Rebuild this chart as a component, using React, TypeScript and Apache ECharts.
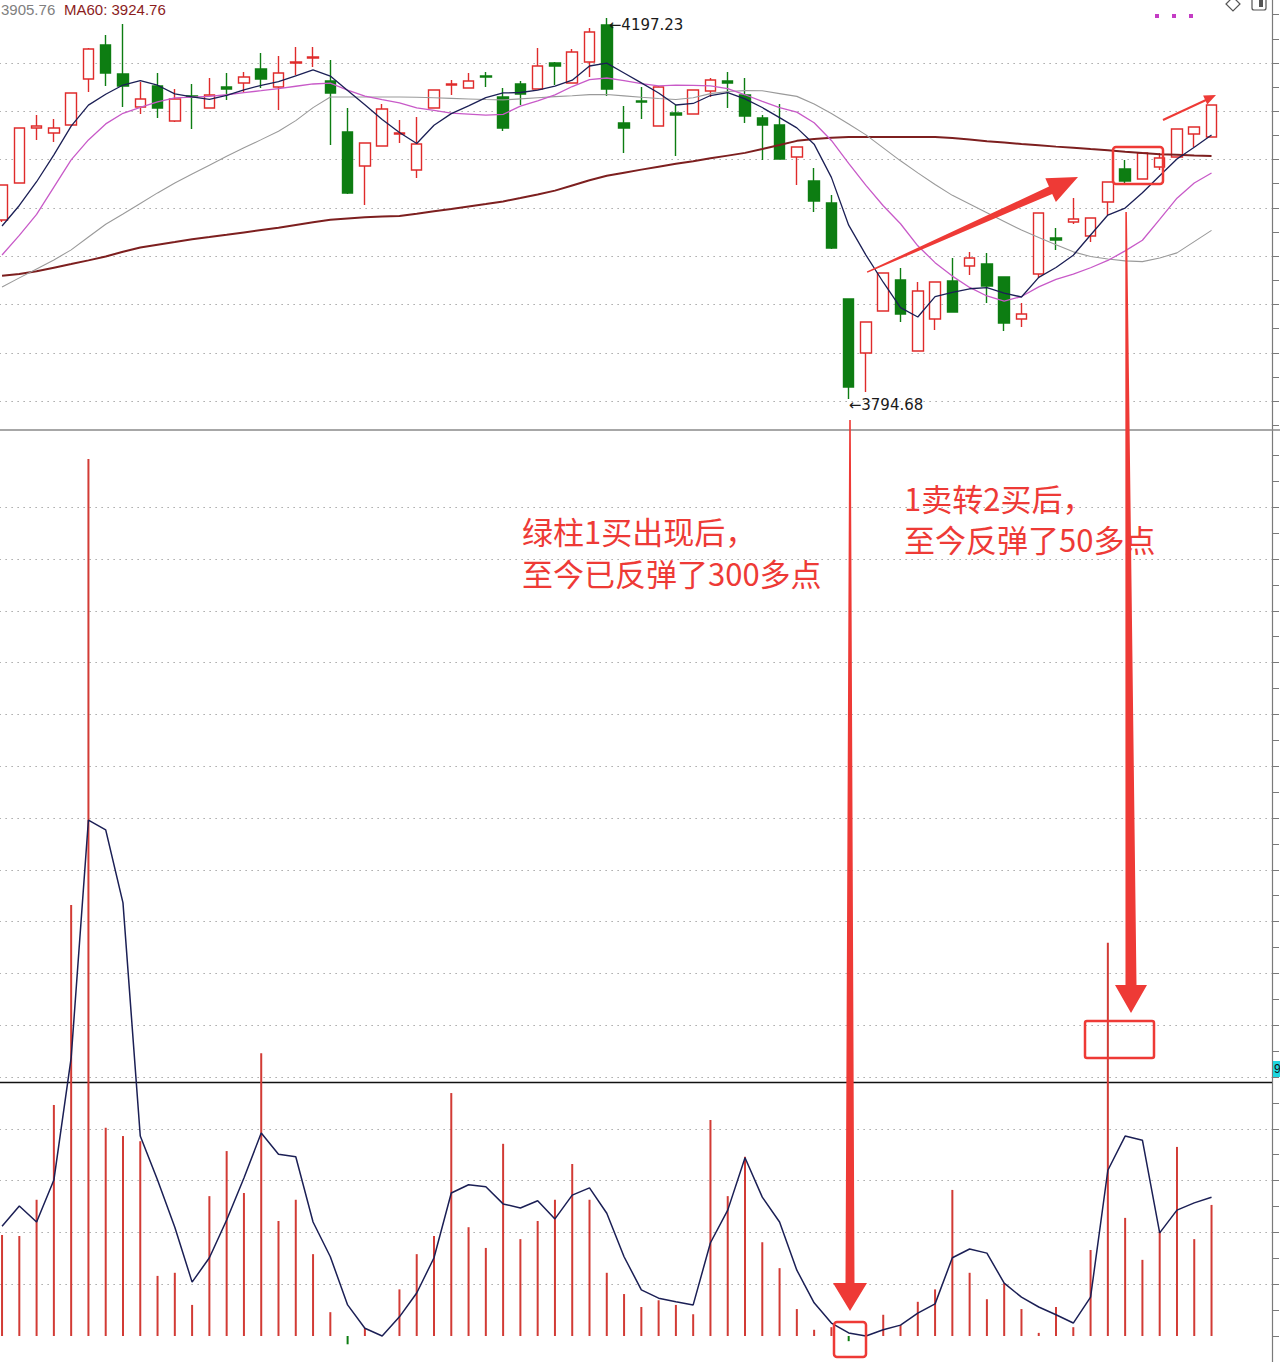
import React, { useEffect, useRef } from "react";
import * as echarts from "echarts";

// ---------- DATA ----------
const categories = [
  "1","2","3","4","5","6","7","8","9","10","11","12","13","14","15","16","17","18","19","20",
  "21","22","23","24","25","26","27","28","29","30","31","32","33","34","35","36","37","38","39","40",
  "41","42","43","44","45","46","47","48","49","50","51","52","53","54","55","56","57","58","59","60",
  "61","62","63","64","65","66","67","68","69","70","71","72","73","74"
];

const openPrice = [
  3983.8, 4022.9, 4081.0, 4075.7, 4084.2, 4132.8, 4168.7, 4138.0, 4103.2, 4125.4,
  4088.4, 4114.8, 4102.1, 4124.3, 4128.5, 4143.3, 4124.3, 4149.7, 4155.0, 4130.6,
  4076.8, 4040.8, 4062.0, 4074.6, 4036.6, 4102.1, 4126.4, 4123.3, 4135.9, 4113.7,
  4127.5, 4122.2, 4149.7, 4128.5, 4150.7, 4189.8, 4086.3, 4109.5, 4083.1, 4096.8,
  4095.8, 4120.1, 4130.6, 4115.9, 4091.6, 4084.2, 4050.3, 4025.0, 4001.7, 3900.3,
  3843.2, 3887.6, 3920.4, 3845.3, 3879.2, 3919.3, 3935.2, 3937.3, 3923.5, 3879.2,
  3926.7, 3964.8, 3981.7, 3966.9, 4002.8, 4037.7, 4027.1, 4039.8, 4050.3, 4074.6,
  4071.5
];
const closePrice = [
  4020.8, 4081.0, 4083.1, 4081.0, 4118.0, 4164.5, 4139.1, 4125.4, 4111.6, 4102.1,
  4111.6, 4113.7, 4115.9, 4122.2, 4134.9, 4132.8, 4139.1, 4150.7, 4156.0, 4118.0,
  4012.3, 4065.1, 4101.1, 4075.7, 4064.1, 4121.1, 4127.5, 4130.6, 4134.9, 4081.0,
  4116.9, 4146.5, 4146.5, 4161.3, 4182.4, 4122.2, 4081.0, 4108.5, 4124.3, 4094.7,
  4121.1, 4131.7, 4128.5, 4093.7, 4084.2, 4048.2, 4060.9, 4003.8, 3954.2, 3807.3,
  3876.0, 3927.8, 3884.4, 3908.7, 3918.3, 3886.6, 3943.6, 3914.0, 3874.9, 3884.4,
  3991.2, 3962.6, 3984.8, 3985.9, 4023.9, 4025.0, 4054.6, 4049.3, 4079.9, 4082.0,
  4105.3
];
const lowPrice = [
  3981.7, 4022.9, 4068.3, 4066.2, 4084.2, 4119.0, 4125.4, 4103.2, 4095.8, 4091.6,
  4087.3, 4079.9, 4102.1, 4110.6, 4119.0, 4123.3, 4100.0, 4137.0, 4145.4, 4063.0,
  4011.2, 3999.6, 4062.0, 4065.1, 4028.2, 4102.1, 4115.9, 4123.3, 4124.3, 4077.8,
  4105.3, 4122.2, 4126.4, 4128.5, 4134.9, 4114.8, 4054.6, 4090.5, 4083.1, 4051.4,
  4095.8, 4113.7, 4102.1, 4086.3, 4047.2, 4048.2, 4020.8, 3992.2, 3953.1, 3794.68,
  3802.0, 3887.6, 3876.0, 3845.3, 3867.5, 3886.6, 3925.6, 3896.1, 3866.5, 3870.7,
  3922.5, 3952.1, 3979.5, 3960.5, 3989.1, 4020.8, 4027.1, 4036.6, 4050.3, 4060.9,
  4071.5
];
const highPrice = [
  4021.5, 4081.0, 4094.7, 4090.5, 4118.0, 4165.5, 4179.3, 4190.9, 4129.6, 4139.1,
  4122.2, 4127.5, 4133.8, 4139.1, 4140.2, 4160.2, 4157.1, 4166.6, 4166.6, 4152.8,
  4102.1, 4065.1, 4106.3, 4089.4, 4092.6, 4122.0, 4131.7, 4139.1, 4140.2, 4123.3,
  4130.6, 4165.5, 4150.7, 4164.5, 4186.7, 4197.23, 4104.2, 4124.3, 4125.4, 4105.3,
  4121.1, 4133.8, 4140.2, 4133.8, 4094.7, 4106.3, 4060.9, 4038.7, 4010.2, 3900.3,
  3876.0, 3927.8, 3933.0, 3918.3, 3918.3, 3943.6, 3950.0, 3948.9, 3923.5, 3896.1,
  3991.2, 3975.3, 4007.0, 3985.9, 4023.9, 4047.2, 4054.6, 4054.6, 4079.9, 4082.0,
  4105.3
];

const ma5 = [
  3977.4, 3999.1, 4024.2, 4052.6, 4083.0, 4105.2, 4116.7, 4126.4, 4131.1, 4126.2,
  4117.0, 4113.8, 4111.2, 4115.5, 4121.3, 4126.1, 4130.0, 4136.1, 4142.3, 4135.9,
  4120.5, 4105.6, 4089.9, 4076.2, 4064.6, 4083.9, 4096.2, 4104.3, 4113.0, 4118.0,
  4118.5, 4121.1, 4125.2, 4131.5, 4146.5, 4149.5, 4139.1, 4128.7, 4118.0, 4105.3,
  4106.9, 4115.3, 4118.4, 4111.8, 4102.6, 4092.0, 4081.1, 4063.9, 4028.8, 3978.3,
  3946.7, 3918.0, 3891.2, 3881.3, 3902.8, 3907.4, 3911.1, 3912.4, 3906.5, 3902.4,
  3923.2, 3933.6, 3946.5, 3967.9, 3989.0, 3996.4, 4012.5, 4030.5, 4048.3, 4060.6,
  4073.6
];
const ma10 = [
  3946.8, 3967.5, 3989.7, 4018.5, 4047.3, 4068.4, 4085.3, 4096.5, 4102.8, 4108.6,
  4112.8, 4113.7, 4114.5, 4116.1, 4118.4, 4120.4, 4122.7, 4125.1, 4127.5, 4128.4,
  4121.0, 4114.6, 4110.9, 4107.5, 4102.3, 4099.5, 4096.8, 4095.7, 4094.5, 4095.3,
  4104.1, 4109.7, 4116.0, 4124.8, 4132.0, 4133.8, 4131.1, 4127.9, 4125.6, 4126.2,
  4126.1, 4125.6, 4122.6, 4116.1, 4109.1, 4102.5, 4097.8, 4086.6, 4067.8, 4043.6,
  4020.3, 3998.8, 3979.8, 3956.5, 3938.7, 3924.5, 3912.5, 3903.5, 3898.1, 3902.9,
  3913.1, 3921.0, 3926.5, 3933.3, 3941.0, 3951.1, 3962.4, 3984.4, 4006.8, 4022.8,
  4033.4
];
const ma30 = [
  3913.0, 3922.6, 3932.1, 3941.6, 3952.2, 3965.8, 3979.3, 3990.1, 4001.3, 4012.4,
  4022.9, 4032.3, 4041.7, 4051.1, 4060.1, 4068.7, 4077.6, 4088.8, 4102.5, 4113.7,
  4113.7, 4113.7, 4113.7, 4113.7, 4113.4, 4112.9, 4112.3, 4111.7, 4111.1, 4110.7,
  4111.8, 4112.9, 4114.1, 4115.1, 4116.3, 4116.4, 4114.9, 4113.4, 4112.2, 4111.1,
  4113.0, 4117.3, 4119.6, 4120.5, 4120.3, 4117.3, 4114.4, 4106.3, 4096.3, 4085.2,
  4073.7, 4060.0, 4046.3, 4033.6, 4021.3, 4009.8, 4000.7, 3991.5, 3982.3, 3973.2,
  3965.2, 3957.6, 3950.1, 3945.2, 3942.5, 3940.6, 3939.8, 3943.6, 3949.0, 3960.9,
  3972.8
];
const ma60 = [
  3924.8, 3926.6, 3929.6, 3933.4, 3937.2, 3941.1, 3945.2, 3950.2, 3954.7, 3957.7,
  3960.5, 3963.4, 3965.7, 3968.1, 3970.6, 3973.1, 3975.6, 3978.5, 3981.4, 3984.0,
  3985.4, 3986.7, 3987.5, 3988.0, 3990.4, 3993.0, 3995.5, 3998.1, 4000.7, 4003.4,
  4007.0, 4010.7, 4014.8, 4020.3, 4025.8, 4030.5, 4033.8, 4037.0, 4040.1, 4043.1,
  4045.9, 4048.9, 4051.8, 4054.7, 4058.7, 4063.0, 4067.4, 4069.4, 4070.7, 4071.5,
  4071.5, 4071.5, 4071.5, 4071.5, 4071.5, 4070.4, 4068.8, 4067.1, 4065.6, 4064.0,
  4062.7, 4061.3, 4060.1, 4058.7, 4057.4, 4055.9, 4054.5, 4053.3, 4052.7, 4051.9,
  4051.4
];

const indicatorBars = [
  19.5, 19.3, 26.3, 44.6, 83.2, 169.3, 40.2, 38.6, 37.6, 11.6,
  12.2, 6.0, 27.0, 35.7, 27.6, 54.6, 22.2, 26.3, 15.8, 4.6,
  -1.6, 1.5, 0, 9.0, 15.8, 19.3, 46.9, 21.0, 17.0, 37.1,
  18.7, 22.2, 26.3, 33.2, 26.3, 12.2, 8.1, 5.6, 6.9, 6.0,
  4.2, 41.7, 27.0, 34.6, 18.1, 13.1, 5.2, 1.2, 1.7, -1.0,
  0, 4.1, 2.1, 6.6, 9.0, 28.2, 12.2, 7.1, 10.2, 5.2,
  0.6, 5.6, 1.7, 16.6, 75.9, 22.8, 14.7, 20.1, 36.5, 18.7,
  25.3
];
const indicatorLine = [
  21.2, 25.1, 22.0, 30.1, 53.7, 99.6, 97.7, 83.6, 38.6, 30.1,
  21.0, 10.4, 15.1, 22.4, 30.5, 39.2, 35.1, 34.6, 22.0, 15.3,
  6.0, 1.5, 0, 3.7, 8.3, 15.1, 27.6, 29.2, 28.8, 25.5,
  24.7, 26.1, 22.6, 27.2, 28.6, 23.7, 15.3, 8.9, 7.3, 6.6,
  6.0, 18.0, 24.3, 34.4, 26.8, 22.0, 12.7, 6.4, 2.5, 0.6,
  0, 1.2, 2.1, 4.4, 6.2, 15.1, 16.8, 16.0, 10.2, 7.5,
  5.6, 4.1, 2.5, 7.5, 32.0, 38.6, 37.8, 19.9, 24.3, 25.7,
  26.8
];

const priceGridLines = [4149.7, 4098.6, 4047.6, 3996.5, 3945.5, 3894.5, 3843.4, 3792.4];
const priceAxisTicks = [4200.7, 4175.2, 4149.7, 4124.2, 4098.6, 4073.1, 4047.6, 4022.1, 3996.5,
  3971.0, 3945.5, 3920.0, 3894.5, 3868.9, 3843.4, 3817.9, 3792.4, 3766.9];
const indicatorGridLines = [10, 20, 30, 40, 50, 60, 70, 80, 90, 100, 110, 120, 130, 140, 150, 160];
const indicatorAxisTicks = [0, 5, 10, 15, 20, 25, 30, 35, 40, 45, 50, 55, 60, 65, 70, 75, 80, 85,
  90, 95, 100, 105, 110, 115, 120, 125, 130, 135, 140, 145, 150, 155, 160, 165, 170];
const thresholdLevel = 49;
const highIndex = 35;
const lowIndex = 49;
const highLabel = "4197.23";
const lowLabel = "3794.68";
const headerMA30 = "3905.76";
const headerMA60 = "MA60: 3924.76";
const note1 = ["绿柱1买出现后，", "至今已反弹了300多点"];
const note2 = ["1卖转2买后，", "至今反弹了50多点"];

// ---------- STYLE ----------
const RED = "#df2b2b";
const GREEN = "#0d7d12";
const ANNO = "#ee3a36";
const PRICE_MIN = 3761.86;
const PRICE_MAX = 4216.24;
const IND_MIN = -5.02;
const IND_MAX = 174.9;

const dotted = { color: "#a8a8a8", width: 1, type: [1.5, 4.5] as any };

function buildOption() {
  const candleData = openPrice.map((o, i) => [o, closePrice[i], lowPrice[i], highPrice[i]]);
  const gridCommon = { left: -6.6, right: 8, outerBoundsMode: "none", containLabel: false };

  const labelFont = { fontSize: 15, color: "#1a1a1a", fontFamily: "DejaVu Sans, sans-serif" };
  const noteFont = { fill: ANNO, fontSize: 31, fontFamily: "Noto Sans CJK SC", verticalAlign: "middle" };

  const graphics: any[] = [
    { type: "line", z: 60, shape: { x1: 0, y1: 430, x2: 1280, y2: 430 }, style: { stroke: "#8a8a8a", lineWidth: 1.5 } },
    { type: "text", z: 60, x: 1, y: 9, style: { text: headerMA30, fill: "#808080", fontSize: 15, fontFamily: "Liberation Sans", verticalAlign: "middle" } },
    { type: "text", z: 60, x: 64, y: 9, style: { text: headerMA60, fill: "#8b1d1d", fontSize: 15, fontFamily: "Liberation Sans", verticalAlign: "middle" } },
    { type: "rect", z: 60, shape: { x: 1155, y: 14, width: 4, height: 4 }, style: { fill: "#c43cc4" } },
    { type: "rect", z: 60, shape: { x: 1172, y: 14, width: 4, height: 4 }, style: { fill: "#c43cc4" } },
    { type: "rect", z: 60, shape: { x: 1189, y: 14, width: 4, height: 4 }, style: { fill: "#c43cc4" } },
    { type: "polygon", z: 60, shape: { points: [[1233, -3], [1240, 4], [1233, 11], [1226, 4]] }, style: { fill: "#fff", stroke: "#555", lineWidth: 1.2 } },
    { type: "rect", z: 60, shape: { x: 1252, y: -6, width: 14, height: 16, r: 2 }, style: { fill: "#fff", stroke: "#555", lineWidth: 1.2 } },
    { type: "rect", z: 60, shape: { x: 1259, y: -6, width: 4, height: 13 }, style: { fill: "#555" } },
    { type: "rect", z: 60, shape: { x: 1273, y: 1061, width: 8, height: 16 }, style: { fill: "#1fd6e0" } },
    { type: "text", z: 61, x: 1274, y: 1069, style: { text: "9", fill: "#111", fontSize: 12, fontFamily: "Liberation Sans", verticalAlign: "middle" } },
    // annotation texts
    { type: "text", z: 70, x: 522, y: 530, style: { text: note1[0], ...noteFont } },
    { type: "text", z: 70, x: 522, y: 572, style: { text: note1[1], ...noteFont } },
    { type: "text", z: 70, x: 904, y: 497, style: { text: note2[0], ...noteFont } },
    { type: "text", z: 70, x: 904, y: 538, style: { text: note2[1], ...noteFont } },
    // big diagonal arrow
    { type: "polygon", z: 72, shape: { points: [[866.8, 271.5], [1049, 186.5], [1045.3, 178.3], [1078, 177], [1055.9, 202.1], [1052.2, 193.9], [867.4, 272.8]] }, style: { fill: ANNO } },
    // small arrow top-right
    { type: "line", z: 72, shape: { x1: 1163, y1: 120, x2: 1206, y2: 100 }, style: { stroke: ANNO, lineWidth: 2 } },
    { type: "polygon", z: 72, shape: { points: [[1216, 95], [1207.3, 104.6], [1203.1, 95.6]] }, style: { fill: ANNO } },
    // box around candles
    { type: "rect", z: 72, shape: { x: 1113, y: 147, width: 50, height: 37, r: 3 }, style: { fill: "none", stroke: ANNO, lineWidth: 2.5 } },
    // vertical arrow 1
    { type: "polygon", z: 72, shape: { points: [[849.2, 420], [850.8, 420], [854.5, 1283], [867, 1283], [850, 1311], [833, 1283], [845.5, 1283]] }, style: { fill: ANNO } },
    // vertical arrow 2
    { type: "polygon", z: 72, shape: { points: [[1125.3, 212], [1126.9, 212], [1136.5, 985], [1147, 985], [1131, 1013], [1115, 985], [1125.5, 985]] }, style: { fill: ANNO } },
    // bottom boxes
    { type: "rect", z: 72, shape: { x: 834, y: 1322, width: 32, height: 35, r: 3 }, style: { fill: "none", stroke: ANNO, lineWidth: 2.5 } },
    { type: "rect", z: 72, shape: { x: 1085, y: 1021, width: 69, height: 37, r: 2 }, style: { fill: "none", stroke: ANNO, lineWidth: 2.5 } },
  ];

  return {
    animation: false,
    backgroundColor: "#ffffff",
    grid: [
      { ...gridCommon, top: 0, height: 430 },
      { ...gridCommon, top: 430, bottom: 0 },
    ],
    xAxis: [
      { type: "category", gridIndex: 0, data: categories, boundaryGap: true, show: false },
      { type: "category", gridIndex: 1, data: categories, boundaryGap: true, show: false },
    ],
    yAxis: [
      { type: "value", gridIndex: 0, min: PRICE_MIN, max: PRICE_MAX, show: false, splitLine: { show: false } },
      {
        type: "value", gridIndex: 0, position: "right", min: PRICE_MIN, max: PRICE_MAX,
        axisLine: { show: true, lineStyle: { color: "#7a7a7a", width: 1.2 } },
        axisTick: { show: true, length: 7, customValues: priceAxisTicks, lineStyle: { color: "#7a7a7a" } },
        axisLabel: { show: false }, splitLine: { show: false },
      },
      { type: "value", gridIndex: 1, min: IND_MIN, max: IND_MAX, show: false, splitLine: { show: false } },
      {
        type: "value", gridIndex: 1, position: "right", min: IND_MIN, max: IND_MAX,
        axisLine: { show: true, lineStyle: { color: "#7a7a7a", width: 1.2 } },
        axisTick: { show: true, length: 7, customValues: indicatorAxisTicks, lineStyle: { color: "#7a7a7a" } },
        axisLabel: { show: false }, splitLine: { show: false },
      },
    ],
    series: [
      {
        type: "candlestick", xAxisIndex: 0, yAxisIndex: 0, data: candleData, barWidth: 11,
        itemStyle: { color: "#ffffff", color0: GREEN, borderColor: RED, borderColor0: GREEN, borderWidth: 1.4 },
        markLine: {
          silent: true, z: 1, symbol: ["none", "none"], label: { show: false }, lineStyle: dotted,
          data: priceGridLines.map((v) => ({ yAxis: v })),
        },
        markPoint: {
          symbol: "circle", symbolSize: 0, silent: true,
          data: [
            { coord: [categories[highIndex], highPrice[highIndex]], label: { show: true, position: "right", distance: 1, offset: [1, 7], formatter: "←" + highLabel, ...labelFont } },
            { coord: [categories[lowIndex], lowPrice[lowIndex]], label: { show: true, position: "right", distance: 0, offset: [0, 6], formatter: "←" + lowLabel, ...labelFont } },
          ],
        },
      },
      { type: "line", xAxisIndex: 0, yAxisIndex: 0, data: ma60, showSymbol: false, lineStyle: { color: "#7d1f1f", width: 2 }, silent: true },
      { type: "line", xAxisIndex: 0, yAxisIndex: 0, data: ma30, showSymbol: false, lineStyle: { color: "#9a9a9a", width: 1.1 }, silent: true },
      { type: "line", xAxisIndex: 0, yAxisIndex: 0, data: ma10, showSymbol: false, lineStyle: { color: "#c85ac8", width: 1.3 }, silent: true },
      { type: "line", xAxisIndex: 0, yAxisIndex: 0, data: ma5, showSymbol: false, lineStyle: { color: "#1b1f55", width: 1.3 }, silent: true },
      {
        type: "bar", xAxisIndex: 1, yAxisIndex: 2, data: indicatorBars, barWidth: 2, silent: true,
        itemStyle: { color: (p: any) => (p.value < 0 ? GREEN : "#d23b35") },
        markLine: {
          silent: true, z: 1, symbol: ["none", "none"], label: { show: false }, lineStyle: dotted,
          data: [
            ...indicatorGridLines.map((v) => ({ yAxis: v })),
            { yAxis: thresholdLevel, lineStyle: { color: "#111111", type: "solid", width: 1.3 } },
          ],
        },
      },
      { type: "line", xAxisIndex: 1, yAxisIndex: 2, data: indicatorLine, showSymbol: false, lineStyle: { color: "#1b1f55", width: 1.5 }, silent: true },
    ],
    graphic: graphics,
  };
}

export default function App() {
  const ref = useRef<HTMLDivElement>(null);
  useEffect(() => {
    if (!ref.current) return;
    const chart = echarts.init(ref.current, null, { renderer: "svg", width: 1280, height: 1362 });
    chart.setOption(buildOption() as any);
    return () => chart.dispose();
  }, []);
  return (
    <div
      ref={ref}
      style={{ position: "absolute", left: 0, top: 0, width: 1280, height: 1362, background: "#fff", overflow: "hidden" }}
    />
  );
}
